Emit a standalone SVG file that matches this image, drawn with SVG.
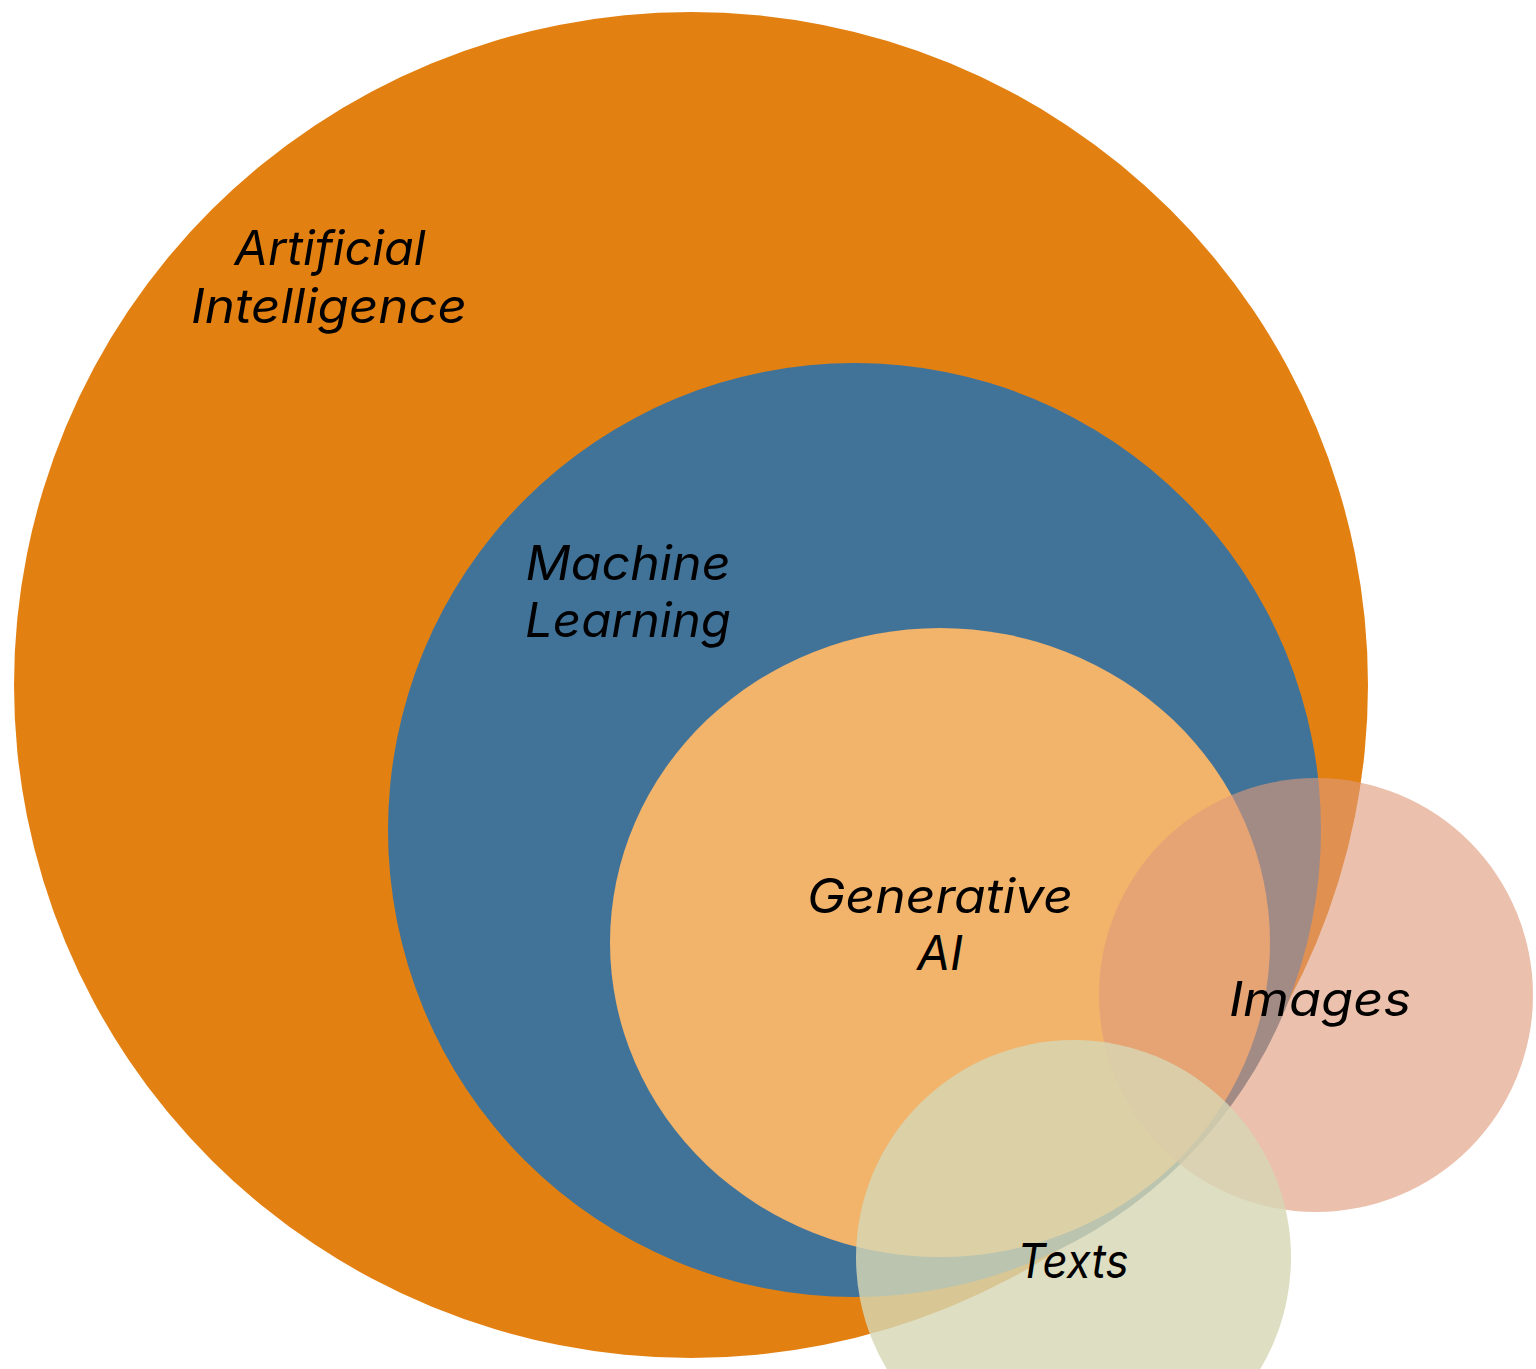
<svg xmlns="http://www.w3.org/2000/svg" width="1536" height="1369" viewBox="0 0 1536 1369">
<style>
.lbl{font-family:Inter,"Liberation Sans",sans-serif;font-style:italic;font-size:48px;fill:#000;text-anchor:middle}
</style>
<rect width="1536" height="1369" fill="#fff"/>
<g id="ai"><ellipse cx="691" cy="685" rx="677" ry="673" fill="#E38012"/>
<text class="lbl" x="330" y="265" textLength="191" lengthAdjust="spacingAndGlyphs">Artificial</text><text class="lbl" x="329" y="323" textLength="276" lengthAdjust="spacingAndGlyphs">Intelligence</text></g>
<g id="ml"><ellipse cx="854.5" cy="830" rx="466.5" ry="467" fill="#417399"/>
<text class="lbl" x="628" y="580" textLength="205" lengthAdjust="spacingAndGlyphs">Machine</text><text class="lbl" x="628" y="637" textLength="206" lengthAdjust="spacingAndGlyphs">Learning</text></g>
<g id="genai"><ellipse cx="940" cy="942.5" rx="330" ry="314.5" fill="#F2B36B"/>
<text class="lbl" x="940" y="913" textLength="266" lengthAdjust="spacingAndGlyphs">Generative</text><text class="lbl" x="940" y="970">AI</text></g>
<g id="images"><circle cx="1316" cy="995" r="217" fill="#DE9979" fill-opacity="0.62"/>
<text class="lbl" x="1320" y="1016" textLength="182" lengthAdjust="spacingAndGlyphs">Images</text></g>
<g id="texts"><circle cx="1073.5" cy="1257.5" r="217.5" fill="#D6D6B4" fill-opacity="0.81"/>
<text class="lbl" x="1073" y="1278" textLength="111" lengthAdjust="spacingAndGlyphs">Texts</text></g>
<g id="connectors"/>
</svg>
